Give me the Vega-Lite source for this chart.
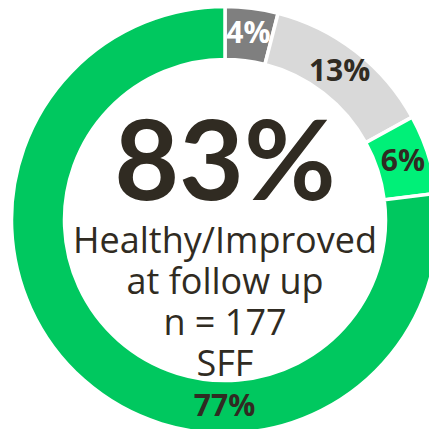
{
  "$schema": "https://vega.github.io/schema/vega-lite/v6.json",
  "width": 450,
  "height": 440,
  "padding": 0,
  "autosize": {"type": "none"},
  "background": "white",
  "config": {"view": {"stroke": null}},
  "datasets": {
    "slices": [
      {"cat": "Worse", "pct": 0.04, "rank": 1},
      {"cat": "Unchanged", "pct": 0.13, "rank": 2},
      {"cat": "Improved", "pct": 0.06, "rank": 3},
      {"cat": "Healthy", "pct": 0.77, "rank": 4}
    ],
    "center": [
      {"big": "83%", "lines": "Healthy/Improved\nat follow up\nn = 177\nSFF"}
    ]
  },
  "layer": [
    {
      "data": {"name": "slices"},
      "mark": {"type": "arc", "outerRadius": 213.5, "innerRadius": 160.5, "stroke": "white", "strokeWidth": 3.5},
      "encoding": {
        "theta": {"field": "pct", "type": "quantitative", "stack": true},
        "order": {"field": "rank", "type": "quantitative"},
        "color": {"field": "cat", "type": "nominal", "legend": null,
          "scale": {"domain": ["Worse", "Unchanged", "Improved", "Healthy"], "range": ["#7f7f7f", "#d9d9d9", "#00f078", "#00c85f"]}}
      }
    },
    {
      "data": {"name": "slices"},
      "mark": {"type": "text", "radius": 187, "font": "Open Sans", "fontWeight": "bold", "fontSize": 30, "align": "center", "baseline": "middle"},
      "encoding": {
        "theta": {"field": "pct", "type": "quantitative", "stack": true},
        "order": {"field": "rank", "type": "quantitative"},
        "text": {"condition": {"test": "datum.cat !== 'Healthy'", "field": "pct", "type": "quantitative", "format": ".0%"}, "value": ""},
        "color": {"condition": {"test": "datum.cat === 'Worse'", "value": "white"}, "value": "#302b22"}
      }
    },
    {
      "data": {"name": "slices"},
      "mark": {"type": "text", "radius": 187, "thetaOffset": -0.72, "font": "Open Sans", "fontWeight": "bold", "fontSize": 30, "align": "center", "baseline": "middle", "color": "#302b22"},
      "encoding": {
        "theta": {"field": "pct", "type": "quantitative", "stack": true},
        "order": {"field": "rank", "type": "quantitative"},
        "text": {"condition": {"test": "datum.cat === 'Healthy'", "field": "pct", "type": "quantitative", "format": ".0%"}, "value": ""}
      }
    },
    {
      "data": {"name": "center"},
      "mark": {"type": "text", "font": "Lato", "fontWeight": "bold", "fontSize": 112, "align": "center", "baseline": "alphabetic", "dy": -20, "color": "#302b22"},
      "encoding": {"text": {"field": "big", "type": "nominal"}}
    },
    {
      "data": {"name": "center"},
      "mark": {"type": "text", "font": "Open Sans", "fontSize": 36, "align": "center", "baseline": "alphabetic", "dy": 33, "lineHeight": 41, "lineBreak": "\n", "color": "#302b22"},
      "encoding": {"text": {"field": "lines", "type": "nominal"}}
    }
  ]
}
